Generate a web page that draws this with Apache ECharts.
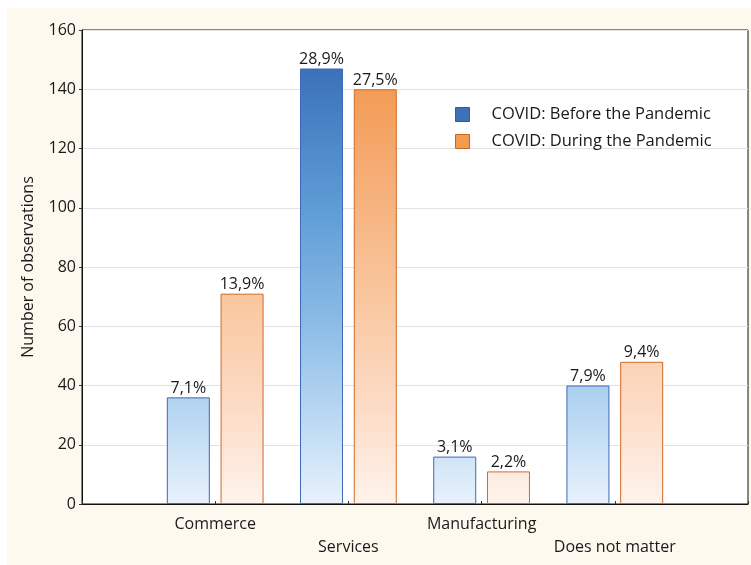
<!DOCTYPE html>
<html>
<head>
<meta charset="utf-8">
<script src="https://cdn.jsdelivr.net/npm/echarts@6/dist/echarts.min.js"></script>
<style>
  html, body { margin: 0; padding: 0; background: #ffffff; }
  #chart { width: 751px; height: 565px; }
</style>
</head>
<body>
<div id="chart"></div>
<script>
// chart data
const categories = ['Commerce', 'Services', 'Manufacturing', 'Does not matter'];
const positions = [1, 2, 3, 4];
const beforeValues = [36, 147, 16, 40];
const duringValues = [71, 140, 11, 48];
const beforeLabels = ['7,1%', '28,9%', '3,1%', '7,9%'];
const duringLabels = ['13,9%', '27,5%', '2,2%', '9,4%'];
const seriesNames = ['COVID: Before the Pandemic', 'COVID: During the Pandemic'];

const FONT = '"Open Sans", sans-serif';

const chartDom = document.getElementById('chart');
const myChart = echarts.init(chartDom);

// gradient runs over the whole plot height (pixel coords), not per bar
const blueGrad = new echarts.graphic.LinearGradient(0, 30, 0, 504, [
  { offset: 0, color: '#3063ae' },
  { offset: 0.1, color: '#3d74bb' },
  { offset: 0.38, color: '#5f9dd6' },
  { offset: 0.6, color: '#88b9e4' },
  { offset: 0.8, color: '#b6d6f2' },
  { offset: 1, color: '#e8f2fc' }
], true);

const orangeGrad = new echarts.graphic.LinearGradient(0, 30, 0, 504, [
  { offset: 0, color: '#f1924a' },
  { offset: 0.13, color: '#f39c57' },
  { offset: 0.38, color: '#f6b481' },
  { offset: 0.6, color: '#f9caa4' },
  { offset: 0.8, color: '#fcdcc7' },
  { offset: 1, color: '#fef3eb' }
], true);

const makeData = (vals, labels) => vals.map((v, i) => ({
  value: [positions[i], v],
  label: { formatter: labels[i] }
}));

myChart.setOption({
  animation: false,
  textStyle: { fontFamily: FONT },
  graphic: [
    {
      type: 'rect',
      z: -10,
      shape: { x: 7, y: 8, width: 760, height: 570 },
      style: { fill: '#fdf9ef' }
    }
  ],
  grid: {
    left: 82,
    right: 2,
    top: 30,
    bottom: 61,
    show: true,
    backgroundColor: '#ffffff',
    borderColor: '#111111',
    borderWidth: 1
  },
  legend: {
    orient: 'vertical',
    left: 450,
    top: 101,
    itemWidth: 14,
    itemHeight: 14,
    itemGap: 10,
    icon: 'rect',
    textStyle: { fontFamily: FONT, fontSize: 16.5, color: '#1a1a1a', padding: [0, 0, 0, 17] },
    data: [
      { name: seriesNames[0], itemStyle: { color: '#3d72bb', borderColor: '#2f5ca6', borderWidth: 1 } },
      { name: seriesNames[1], itemStyle: { color: '#f49b52', borderColor: '#c8651f', borderWidth: 1 } }
    ]
  },
  xAxis: {
    type: 'value',
    min: 0,
    max: 5,
    interval: 1,
    splitLine: { show: false },
    axisLine: { show: true, lineStyle: { color: '#111111' } },
    axisTick: { show: true, inside: true, length: 3, lineStyle: { color: '#333333' } },
    axisLabel: {
      margin: 9,
      fontFamily: FONT,
      fontSize: 16,
      lineHeight: 23,
      color: '#1a1a1a',
      formatter: function (v) {
        const idx = Math.round(v) - 1;
        if (idx < 0 || idx >= categories.length) return '';
        return idx % 2 === 1 ? '\n' + categories[idx] : categories[idx];
      }
    }
  },
  yAxis: {
    type: 'value',
    min: 0,
    max: 160,
    interval: 20,
    name: 'Number of observations',
    nameLocation: 'middle',
    nameGap: 46,
    nameTextStyle: { fontFamily: FONT, fontSize: 16, color: '#1a1a1a' },
    axisLine: { show: true, lineStyle: { color: '#111111' } },
    axisTick: { show: true, length: 3, lineStyle: { color: '#333333' } },
    axisLabel: { margin: 6, fontFamily: FONT, fontSize: 16, color: '#1a1a1a' },
    splitLine: { show: true, lineStyle: { color: '#e2e2e2' } }
  },
  series: [
    {
      name: seriesNames[0],
      type: 'bar',
      barWidth: 43,
      barGap: '25%',
      data: makeData(beforeValues, beforeLabels),
      itemStyle: { color: blueGrad, borderColor: '#3e68b8', borderWidth: 1 },
      label: { show: true, position: 'top', distance: 1, fontFamily: FONT, fontSize: 16, color: '#1a1a1a' }
    },
    {
      name: seriesNames[1],
      type: 'bar',
      barWidth: 43,
      barGap: '25%',
      data: makeData(duringValues, duringLabels),
      itemStyle: { color: orangeGrad, borderColor: '#d06b27', borderWidth: 1 },
      label: { show: true, position: 'top', distance: 1, fontFamily: FONT, fontSize: 16, color: '#1a1a1a' }
    }
  ]
});
</script>
</body>
</html>
